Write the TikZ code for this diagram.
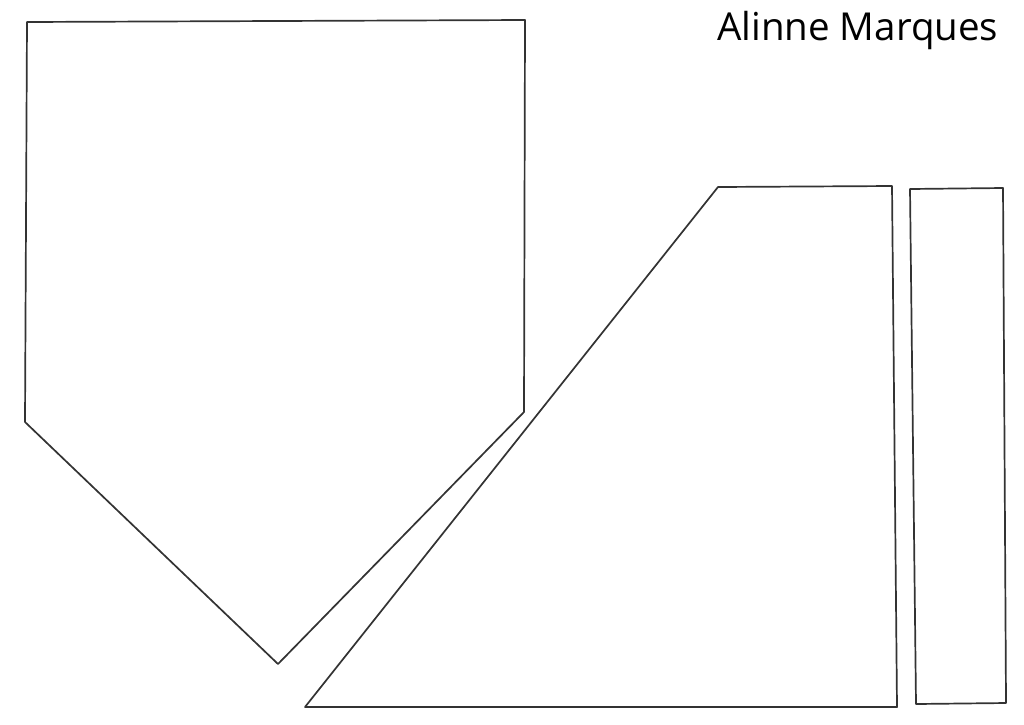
\documentclass[tikz,border=0pt]{standalone}
\usepackage{fontspec}
\setmainfont{Open Sans}
\begin{document}
\begin{tikzpicture}[x=1pt,y=-1pt,
  sketch/.style={draw=black!80,line width=1.7pt,line join=round,line cap=round},
  sig/.style={font=\fontsize{38.5}{42}\selectfont,inner sep=0pt,anchor=base west}]
\useasboundingbox (0,0) rectangle (1024,724);
\fill[white] (0,0) rectangle (1024,724);
% pentagon
\coordinate (p1) at (27,22);
\coordinate (p2) at (525,20);
\coordinate (p3) at (524,412);
\coordinate (p4) at (278,664);
\coordinate (p5) at (25,422);
\draw[sketch] (p1) -- (p2) -- (p3) -- (p4) -- (p5) -- cycle;
% trapezoid
\coordinate (t1) at (718,187);
\coordinate (t2) at (892,186);
\coordinate (t3) at (897,707);
\coordinate (t4) at (305,707);
\draw[sketch] (t1) -- (t2) -- (t3) -- (t4) -- cycle;
% rectangle
\coordinate (r1) at (910,189);
\coordinate (r2) at (1003,188);
\coordinate (r3) at (1006,703);
\coordinate (r4) at (916,704);
\draw[sketch] (r1) -- (r2) -- (r3) -- (r4) -- cycle;
\node[sig] (name) at (717,40) {Alinne Marques};
\end{tikzpicture}
\end{document}
